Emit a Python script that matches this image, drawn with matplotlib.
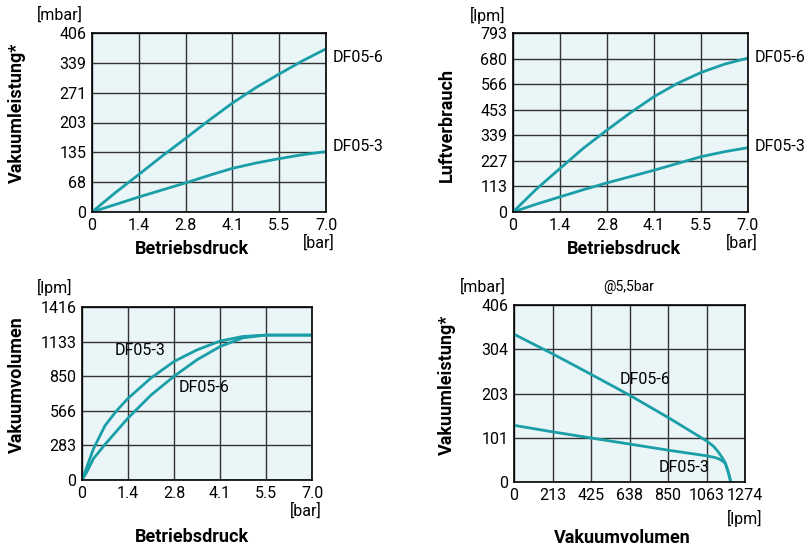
import numpy as np
import matplotlib
matplotlib.use("Agg")
import matplotlib.pyplot as plt

plt.rcParams["font.family"] = ["Roboto", "DejaVu Sans"]

W, H = 810, 548

# --- data ---
druck = [0, 0.7, 1.4, 2.1, 2.8, 3.5, 4.2, 4.9, 5.6, 6.3, 7.0]
vak_6 = [0, 44, 85, 127, 167, 208, 247, 282, 313, 343, 370]
vak_3 = [0, 17, 34, 50, 66, 83, 99, 111, 121, 130, 137]

luft_6 = [0, 102, 193, 283, 363, 440, 511, 570, 618, 655, 682]
luft_3 = [0, 35, 67, 99, 129, 157, 185, 215, 245, 267, 285]

druck_vol = [0, 0.15, 0.35, 0.7, 1.05, 1.4, 2.1, 2.8, 3.5, 4.2, 4.9, 5.6, 7.0]
vol_3 = [0, 108, 256, 445, 566, 668, 835, 970, 1065, 1137, 1175, 1186, 1186]
vol_6 = [0, 67, 175, 291, 399, 507, 695, 849, 984, 1092, 1164, 1186, 1186]

vv_6 = [0, 213, 425, 638, 850, 1063, 1100, 1125, 1150, 1165, 1180, 1190, 1195]
vl_6 = [339, 294, 247, 199, 148, 94, 82, 70, 55, 44, 25, 10, 0]
vv_3 = [0, 213, 425, 638, 850, 1063, 1110, 1135, 1150, 1165, 1180, 1190, 1195]
vl_3 = [130, 115, 101, 87, 73, 60, 56, 52, 48, 43, 25, 10, 0]

x_ticks = [0, 1.4, 2.8, 4.2, 5.6, 7.0]
x_labels = ["0", "1.4", "2.8", "4.1", "5.5", "7.0"]
vv_ticks = [0, 213, 425, 638, 850, 1063, 1274]

teal = "#1a9ea7"
bg = "#e9f5f7"
grid = "#333333"
fs = 11.5
fb = 13

fig = plt.figure(figsize=(W / 100, H / 100), dpi=100)


def px(x, y):
    return x / W, 1 - y / H


def make_ax(l, t, r, b):
    ax = fig.add_axes([l / W, 1 - b / H, (r - l) / W, (b - t) / H])
    ax.set_facecolor(bg)
    ax.grid(True, color=grid, lw=1.0)
    ax.set_axisbelow(True)
    for s in ax.spines.values():
        s.set_color("black")
        s.set_linewidth(1.2)
    ax.tick_params(length=0, labelsize=fs, pad=4, colors="black")
    return ax


def txt(x, y, s, **kw):
    fig.text(*px(x, y), s, fontsize=kw.pop("fontsize", fs), **kw)


# top left
ax1 = make_ax(92, 33, 326, 212)
ax1.plot(druck, vak_6, color=teal, lw=2)
ax1.plot(druck, vak_3, color=teal, lw=2)
ax1.set_xlim(0, 7)
ax1.set_ylim(0, 406)
ax1.set_xticks(x_ticks, x_labels)
ax1.set_yticks(np.linspace(0, 406, 7), ["0", "68", "135", "203", "271", "339", "406"])
txt(333, 57, "DF05-6", va="center")
txt(333, 146, "DF05-3", va="center")
txt(17, 113, "Vakuumleistung*", rotation=90, ha="center", va="center", fontweight="bold", fontsize=fb)
txt(60, 15, "[mbar]", ha="center", va="center")
txt(192, 249, "Betriebsdruck", ha="center", va="center", fontweight="bold", fontsize=fb)
txt(319, 243, "[bar]", ha="center", va="center")

# top right
ax2 = make_ax(513, 33, 748, 212)
ax2.plot(druck, luft_6, color=teal, lw=2)
ax2.plot(druck, luft_3, color=teal, lw=2)
ax2.set_xlim(0, 7)
ax2.set_ylim(0, 793)
ax2.set_xticks(x_ticks, x_labels)
ax2.set_yticks(np.linspace(0, 793, 8), ["0", "113", "227", "339", "453", "566", "680", "793"])
txt(755, 57, "DF05-6", va="center")
txt(755, 147, "DF05-3", va="center")
txt(447, 125, "Luftverbrauch", rotation=90, ha="center", va="center", fontweight="bold", fontsize=fb)
txt(488, 15, "[lpm]", ha="center", va="center")
txt(624, 249, "Betriebsdruck", ha="center", va="center", fontweight="bold", fontsize=fb)
txt(742, 243, "[bar]", ha="center", va="center")

# bottom left
ax3 = make_ax(82, 307, 312, 480)
ax3.plot(druck_vol, vol_3, color=teal, lw=2)
ax3.plot(druck_vol, vol_6, color=teal, lw=2)
ax3.set_xlim(0, 7)
ax3.set_ylim(0, 1416)
ax3.set_xticks(x_ticks, x_labels)
ax3.set_yticks(np.linspace(0, 1416, 6), ["0", "283", "566", "850", "1133", "1416"])
ax3.text(1.0, 1057, "DF05-3", fontsize=fs, va="center")
ax3.text(2.94, 757, "DF05-6", fontsize=fs, va="center")
txt(17, 385, "Vakuumvolumen", rotation=90, ha="center", va="center", fontweight="bold", fontsize=fb)
txt(55, 287, "[lpm]", ha="center", va="center")
txt(306, 511, "[bar]", ha="center", va="center")
txt(192, 537, "Betriebsdruck", ha="center", va="center", fontweight="bold", fontsize=fb)

# bottom right
ax4 = make_ax(514, 305, 745, 482)
ax4.plot(vv_6, vl_6, color=teal, lw=2)
ax4.plot(vv_3, vl_3, color=teal, lw=2)
ax4.set_xlim(0, 1274)
ax4.set_ylim(0, 406)
ax4.set_xticks(vv_ticks, [str(v) for v in vv_ticks])
ax4.set_yticks(np.linspace(0, 406, 5), ["0", "101", "203", "304", "406"])
ax4.text(584, 234, "DF05-6", fontsize=fs, va="center")
ax4.text(795, 34, "DF05-3", fontsize=fs, va="center")
txt(447, 385, "Vakuumleistung*", rotation=90, ha="center", va="center", fontweight="bold", fontsize=fb)
txt(483, 287, "[mbar]", ha="center", va="center")
txt(629, 287, "@5,5bar", ha="center", va="center", fontsize=10)
txt(745, 518, "[lpm]", ha="center", va="center")
txt(622, 538, "Vakuumvolumen", ha="center", va="center", fontweight="bold", fontsize=fb)

fig.savefig("out.png", dpi=100)
